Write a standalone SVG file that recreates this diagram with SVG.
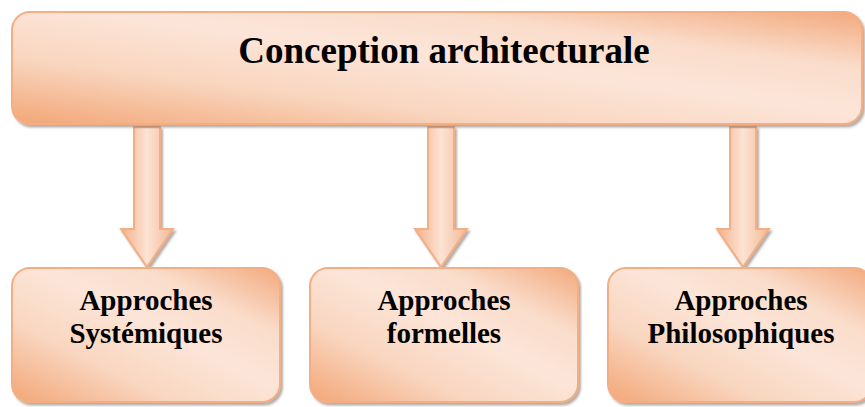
<svg xmlns="http://www.w3.org/2000/svg" width="865" height="407" viewBox="0 0 865 407">
  <defs>
    <!-- diagonal peach gradient: deeper orange at two corners, pale centre -->
    <linearGradient id="boxFill" x1="0" y1="1" x2="1" y2="0">
      <stop offset="0" stop-color="#F2A676"/>
      <stop offset="0.3" stop-color="#F9D6C0"/>
      <stop offset="0.55" stop-color="#FCE5D8"/>
      <stop offset="0.75" stop-color="#FADCCA"/>
      <stop offset="1" stop-color="#F2A97D"/>
    </linearGradient>
    <!-- arrow body: darker edges, light centre -->
    <linearGradient id="arrowFill" x1="0" y1="0" x2="1" y2="0">
      <stop offset="0" stop-color="#F4B08A"/>
      <stop offset="0.5" stop-color="#FCE3D4"/>
      <stop offset="1" stop-color="#F4B995"/>
    </linearGradient>
    <filter id="shadow" x="-5%" y="-5%" width="115%" height="120%">
      <feDropShadow dx="2" dy="2.5" stdDeviation="0.8" flood-color="#7a6a60" flood-opacity="0.55"/>
    </filter>
  </defs>
  <style>
    .box { fill: url(#boxFill); stroke: #F3AE84; stroke-width: 2; filter: url(#shadow); }
    .arrow { fill: url(#arrowFill); stroke: #F3AE84; stroke-width: 2; stroke-linejoin: miter; filter: url(#shadow); }
    .title { font-family: "Liberation Serif", "Times New Roman", serif; font-weight: bold; font-size: 37px; fill: #000; text-anchor: middle; }
    .label { font-family: "Liberation Serif", "Times New Roman", serif; font-weight: bold; font-size: 29px; fill: #000; text-anchor: middle; }
  </style>

  <!-- connectors: block arrows from the heading to each approach -->
  <g id="connectors">
    <path class="arrow" d="M134,127 H160 V229 H173 L147,267 L121,229 H134 Z"/>
    <path class="arrow" d="M428,127 H454 V229 H467 L441,267 L415,229 H428 Z"/>
    <path class="arrow" d="M730,127 H756 V229 H769 L743,267 L717,229 H730 Z"/>
  </g>

  <g id="conception">
    <rect class="box" x="12" y="12" width="850" height="112" rx="18" ry="18"/>
    <text class="title" x="444" y="63">Conception architecturale</text>
  </g>

  <g id="systemiques">
    <rect class="box" x="12" y="268" width="268" height="134" rx="18" ry="18"/>
    <text class="label" x="146" y="310">Approches</text>
    <text class="label" x="146" y="343">Systémiques</text>
  </g>

  <g id="formelles">
    <rect class="box" x="310" y="268" width="268" height="134" rx="18" ry="18"/>
    <text class="label" x="444" y="310">Approches</text>
    <text class="label" x="444" y="343">formelles</text>
  </g>

  <g id="philosophiques">
    <rect class="box" x="608" y="268" width="264" height="134" rx="18" ry="18"/>
    <text class="label" x="741" y="310">Approches</text>
    <text class="label" x="741" y="343">Philosophiques</text>
  </g>
</svg>
